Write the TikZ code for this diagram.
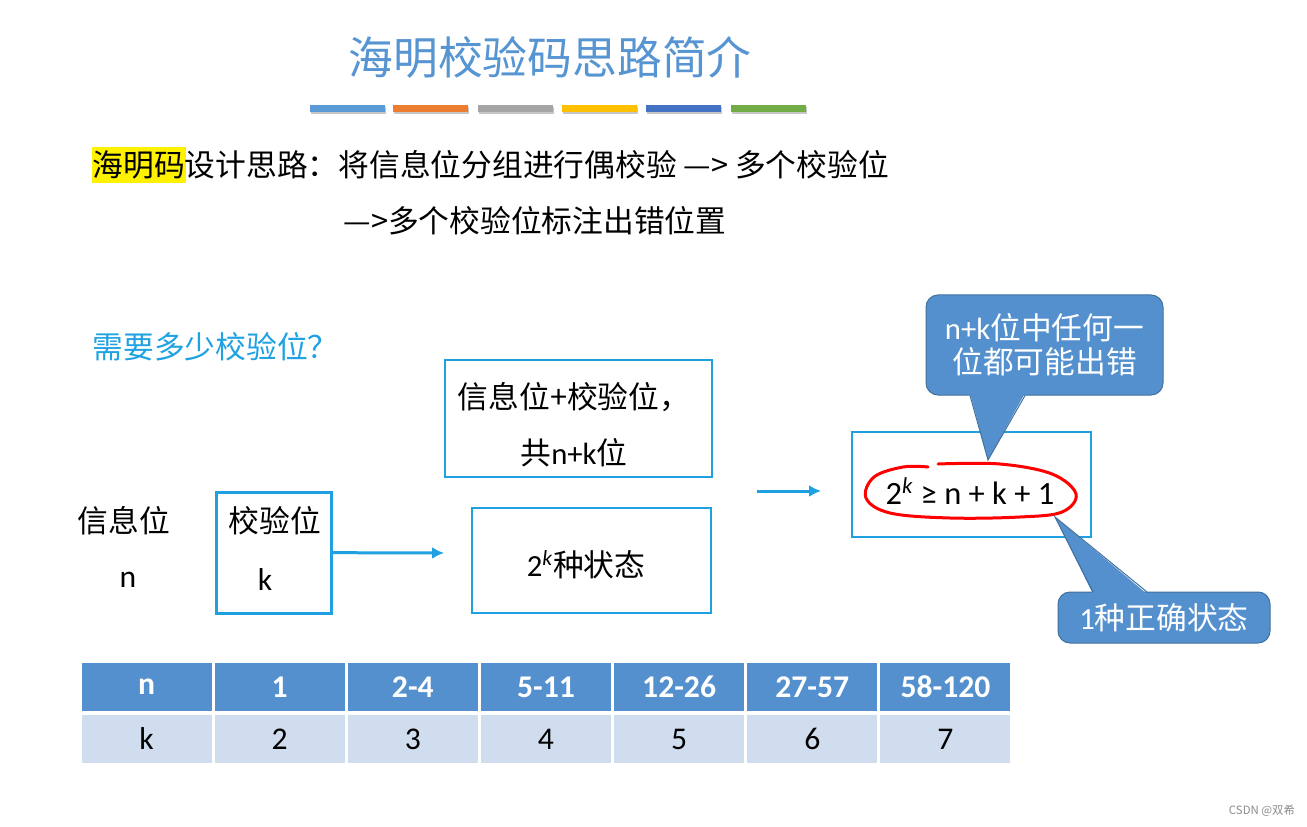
\documentclass[tikz,border=0pt]{standalone}
\usepackage{fontspec}
\setmainfont{Noto Sans CJK SC}
\newfontfamily\lat{Carlito}
\usetikzlibrary{shapes,arrows.meta,positioning}

\newdimen\pxu \pxu=0.02cm
\definecolor{titleblue}{RGB}{86,148,210}
\definecolor{askblue}{RGB}{30,162,226}
\definecolor{boxblue}{RGB}{30,160,225}
\definecolor{notefill}{RGB}{84,144,206}
\definecolor{noteedge}{RGB}{65,113,156}
\definecolor{headfill}{RGB}{84,144,206}
\definecolor{rowfill}{RGB}{207,221,238}
\definecolor{barA}{RGB}{91,155,213}
\definecolor{barB}{RGB}{237,125,49}
\definecolor{barC}{RGB}{165,165,165}
\definecolor{barD}{RGB}{255,192,0}
\definecolor{barE}{RGB}{68,114,196}
\definecolor{barF}{RGB}{112,173,71}

\begin{document}
\begin{tikzpicture}[x=0.02cm, y=-0.02cm, semithick]
  \tikzstyle{txt} = [inner sep=0pt, font=\fontsize{17.5}{32}\selectfont]
  \tikzstyle{bluebox} = [rectangle, draw=boxblue, line width=1.5\pxu]
  \tikzstyle{note} = [rectangle, rounded corners=12\pxu, fill=notefill, draw=noteedge,
    line width=1\pxu, text=white, align=center, font=\fontsize{17.5}{19.5}\selectfont]
  \tikzstyle{headcell} = [rectangle, fill=headfill, minimum width=130\pxu, minimum height=48\pxu,
    text=white, font={\fontsize{18}{20}\selectfont\lat\bfseries}]
  \tikzstyle{bodycell} = [rectangle, fill=rowfill, minimum width=130\pxu, minimum height=48\pxu,
    font={\fontsize{18}{20}\selectfont\lat}]
  \tikzstyle{line} = [draw=boxblue, line width=3\pxu, -{Latex[length=6.8pt,width=6.8pt]}]

  \useasboundingbox (0,0) rectangle (1307,827);
  \fill[white] (0,0) rectangle (1307,827);

  % Title and bars
  \node [text=titleblue, font=\fontsize{25.5}{30}\selectfont] (title) at (550,57) {海明校验码思路简介};
  \foreach \bx/\bc in {310/barA,393/barB,478/barC,562/barD,646/barE,731/barF} {
    \fill [black!22] (\bx+1,107) rectangle ++(75,7);
    \fill [\bc] (\bx,105) rectangle ++(75,7);
  }

  % Idea text
  \node [txt, fill=yellow, inner xsep=1\pxu, minimum height=36\pxu, anchor=west] (hl) at (91,165) {海明码};
  \node [txt, right=-2\pxu of hl] (idea) {设计思路：将信息位分组进行偶校验 —> 多个校验位};
  \node [txt, anchor=west] (idea2) at (343,221) {—>多个校验位标注出错位置};
  \node [txt, text=askblue, anchor=west] (ask) at (92,347) {需要多少校验位？};

  % Place nodes
  \node [txt] (info) at (124,521) {信息位};
  \node [txt, font=\fontsize{18}{20}\selectfont\lat] (infon) at (128,580) {n};
  \node [rectangle, draw=boxblue, line width=3\pxu, minimum width=115\pxu,
    minimum height=121\pxu] (chk) at (273.5,552.5) {};
  \node [txt] (chkt) at (275,521) {校验位};
  \node [txt, font=\fontsize{18}{20}\selectfont\lat] (chkk) at (265,580) {k};

  \node [bluebox, minimum width=267\pxu, minimum height=117\pxu] (total) at (578.5,418.5) {};
  \node [txt, align=center] (totalt) at (574,424.5) {信息位+校验位，\\共{\lat n+k}位};
  \node [bluebox, minimum width=239\pxu, minimum height=105\pxu] (states) at (591.5,560.5) {};
  \node [txt] (statest) at (586,565) {{\lat 2\textsuperscript{\itshape k}}种状态};
  \node [bluebox, minimum width=239\pxu, minimum height=105\pxu] (cond) at (971.5,484.5) {};
  \node [font=\fontsize{18.5}{20}\selectfont\lat, inner sep=0pt] (ineq) at (970,491)
    {2\textsuperscript{\itshape k} ≥ n + k + 1};

  % red mark
  \draw [red, line width=3\pxu, line cap=round] plot [smooth, tension=0.6] coordinates
    {(938,464) (1000,464) (1052,474) (1076,494) (1062,512) (1020,517) (950,518) (890,513)
     (866,498) (874,477) (903,467) (928,467)};

  % Callouts
  \node [note, minimum width=237\pxu, minimum height=100\pxu] (anyerr) at (1044.5,345)
    {{\lat n+k}位中任何一\\位都可能出错};
  \fill [notefill] (970,393) -- (988,460) -- (1025,393) -- cycle;
  \draw [noteedge, line width=1\pxu] (970,395.5) -- (988,460) -- (1025,395.5);

  \node [note, minimum width=212\pxu, minimum height=51\pxu] (okstate) at (1164,617.5)
    {{\lat 1}种正确状态};
  \fill [notefill] (1093,594) -- (1055,517) -- (1147,594) -- cycle;
  \draw [noteedge, line width=1\pxu] (1093,592) -- (1055,517) -- (1147,592);

  % Draw edges
  \coordinate (a1) at (444,553);
  \coordinate (a2s) at (757,491);
  \coordinate (a2e) at (821,491);
  \path [line] (chk) -- (a1);
  \path [line] (a2s) -- (a2e);

  % Table
  \foreach \hv [count=\i] in {n,1,2-4,5-11,12-26,27-57,58-120}
    \node [headcell] (h\i) at ({80+(\i-0.5)*133.14},687) {\hv};
  \foreach \kv [count=\i] in {k,2,3,4,5,6,7}
    \node [bodycell] (k\i) at ({80+(\i-0.5)*133.14},739) {\kv};

  \node [text=black!45, font=\fontsize{6.5}{8}\selectfont] (mark) at (1262,811) {CSDN @双希};
\end{tikzpicture}
\end{document}
